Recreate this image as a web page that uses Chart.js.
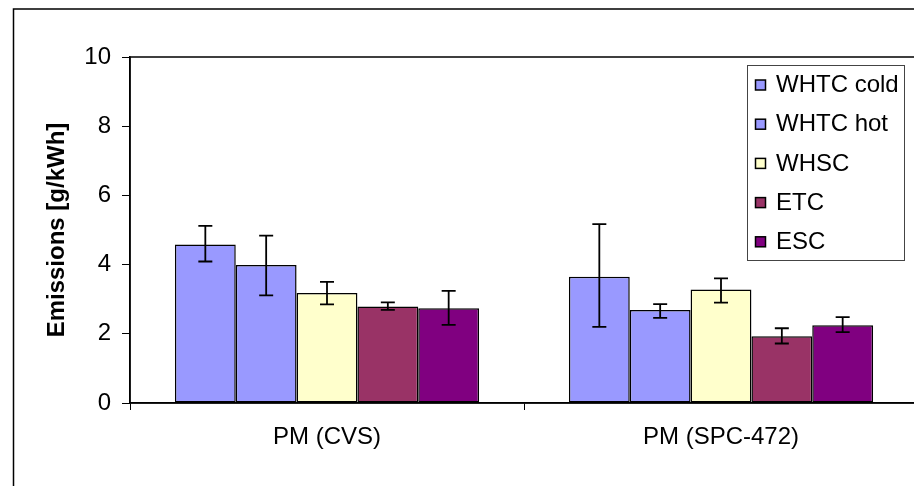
<!DOCTYPE html>
<html>
<head>
<meta charset="utf-8">
<script src="https://cdn.jsdelivr.net/npm/chart.js@4.4.0/dist/chart.umd.min.js"></script>
<style>
html,body{margin:0;padding:0;overflow:hidden;background:#fff;}
#wrap{position:absolute;left:0;top:0;width:930px;height:486px;}
</style>
</head>
<body>
<div id="wrap"><canvas id="c" width="930" height="486"></canvas></div>
<script>
const categories = ["PM (CVS)", "PM (SPC-472)"];
const seriesNames = ["WHTC cold", "WHTC hot", "WHSC", "ETC", "ESC"];
const seriesColors = ["#9999FF", "#9999FF", "#FFFFCC", "#993366", "#800080"];
const whtcCold = [4.58, 3.65];
const whtcHot = [3.99, 2.69];
const whsc = [3.18, 3.28];
const etc = [2.79, 1.93];
const esc = [2.74, 2.25];
const errLowWhtcCold = [4.09, 2.20], errHighWhtcCold = [5.12, 5.17];
const errLowWhtcHot = [3.11, 2.46], errHighWhtcHot = [4.84, 2.86];
const errLowWhsc = [2.85, 2.90], errHighWhsc = [3.50, 3.60];
const errLowEtc = [2.69, 1.72], errHighEtc = [2.91, 2.16];
const errLowEsc = [2.26, 2.05], errHighEsc = [3.24, 2.48];
const yTicks = [0, 2, 4, 6, 8, 10];

const values = [whtcCold, whtcHot, whsc, etc, esc];
const errLow = [errLowWhtcCold, errLowWhtcHot, errLowWhsc, errLowEtc, errLowEsc];
const errHigh = [errHighWhtcCold, errHighWhtcHot, errHighWhsc, errHighEtc, errHighEsc];

const FONT = "'Liberation Sans', Arial, sans-serif";
const FS = 24;

const datasets = seriesNames.map((n, i) => ({
  label: n,
  data: values[i],
  backgroundColor: seriesColors[i],
  borderColor: "#000",
  borderWidth: 1.5,
  borderSkipped: false,
  errLow: errLow[i],
  errHigh: errHigh[i]
}));

const framePlugin = {
  id: "frame",
  beforeDraw(chart) {
    const ctx = chart.ctx;
    ctx.save();
    ctx.strokeStyle = "#000";
    ctx.lineWidth = 1.5;
    ctx.strokeRect(13.5, 9, 920, 490);
    ctx.restore();
  },
  afterDatasetsDraw(chart) {
    const ctx = chart.ctx;
    const a = chart.chartArea;
    const y = chart.scales.y;
    ctx.save();
    // error bars
    ctx.strokeStyle = "#000";
    ctx.lineWidth = 1.8;
    chart.data.datasets.forEach((ds, i) => {
      const meta = chart.getDatasetMeta(i);
      meta.data.forEach((bar, j) => {
        const x = bar.x;
        const yl = y.getPixelForValue(ds.errLow[j]);
        const yh = y.getPixelForValue(ds.errHigh[j]);
        ctx.beginPath();
        ctx.moveTo(x, yl); ctx.lineTo(x, yh);
        ctx.moveTo(x - 7, yl); ctx.lineTo(x + 7, yl);
        ctx.moveTo(x - 7, yh); ctx.lineTo(x + 7, yh);
        ctx.stroke();
      });
    });
    // plot frame
    ctx.lineWidth = 1.5;
    ctx.strokeStyle = "#000";
    ctx.strokeRect(a.left, a.top, a.right - a.left, a.bottom - a.top);
    // legend
    const lx = 747, ly = 65, lw = 157, lh = 195;
    ctx.fillStyle = "#fff";
    ctx.fillRect(lx, ly, lw, lh);
    ctx.strokeStyle = "#444";
    ctx.lineWidth = 1;
    ctx.strokeRect(lx + 0.5, ly + 0.5, lw, lh);
    ctx.font = FS + "px " + FONT;
    ctx.textBaseline = "middle";
    ctx.textAlign = "left";
    chart.data.datasets.forEach((ds, i) => {
      const cy = 84.5 + i * 39.2;
      ctx.fillStyle = ds.backgroundColor;
      ctx.fillRect(755.5, cy - 4.5, 10, 10);
      ctx.strokeStyle = "#000";
      ctx.lineWidth = 1.5;
      ctx.strokeRect(755.5, cy - 4.5, 10, 10);
      ctx.fillStyle = "#000";
      ctx.fillText(ds.label, 776, cy + 1);
    });
    ctx.restore();
  }
};

new Chart(document.getElementById("c"), {
  type: "bar",
  data: { labels: categories, datasets },
  options: {
    responsive: false,
    animation: false,
    devicePixelRatio: 1,
    layout: { padding: { top: 57, right: 12, bottom: 0, left: 0 } },
    categoryPercentage: 0.772,
    barPercentage: 1.0,
    plugins: { legend: { display: false }, tooltip: { enabled: false } },
    scales: {
      x: {
        offset: true,
        afterFit(s) { s.height = 83; },
        grid: { offset: true, drawOnChartArea: false, drawTicks: true, tickLength: 7, color: "#000", lineWidth: 1 },
        border: { display: true, color: "#000", width: 1.5 },
        ticks: { color: "#000", font: { family: FONT, size: FS }, padding: 13 }
      },
      y: {
        min: 0, max: 10,
        afterFit(s) { s.width = 130; },
        afterBuildTicks(s) { s.ticks = yTicks.map(v => ({ value: v })); },
        grid: { drawOnChartArea: false, drawTicks: true, tickLength: 8, color: "#000", lineWidth: 1 },
        border: { display: true, color: "#000", width: 1.5 },
        ticks: { color: "#000", font: { family: FONT, size: FS }, padding: 11 },
        title: { display: true, text: "Emissions [g/kWh]", color: "#000", font: { family: FONT, size: FS, weight: "bold" }, padding: { top: 43, bottom: 0 } }
      }
    }
  },
  plugins: [framePlugin]
});
</script>
</body>
</html>
